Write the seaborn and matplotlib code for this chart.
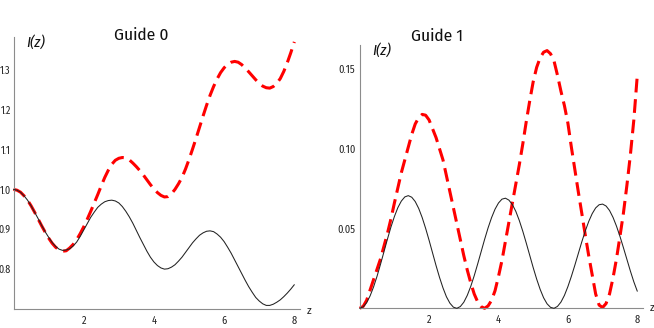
import matplotlib
matplotlib.use("Agg")
import matplotlib.pyplot as plt
import pandas as pd
import seaborn as sns
from matplotlib.ticker import MultipleLocator, FixedLocator, FixedFormatter

# ---------------- data ----------------
z = [0.0, 0.1, 0.2, 0.3, 0.4, 0.5, 0.6, 0.7, 0.8, 0.9,
     1.0, 1.1, 1.2, 1.3, 1.4, 1.5, 1.6, 1.7, 1.8, 1.9,
     2.0, 2.1, 2.2, 2.3, 2.4, 2.5, 2.6, 2.7, 2.8, 2.9,
     3.0, 3.1, 3.2, 3.3, 3.4, 3.5, 3.6, 3.7, 3.8, 3.9,
     4.0, 4.1, 4.2, 4.3, 4.4, 4.5, 4.6, 4.7, 4.8, 4.9,
     5.0, 5.1, 5.2, 5.3, 5.4, 5.5, 5.6, 5.7, 5.8, 5.9,
     6.0, 6.1, 6.2, 6.3, 6.4, 6.5, 6.6, 6.7, 6.8, 6.9,
     7.0, 7.1, 7.2, 7.3, 7.4, 7.5, 7.6, 7.7, 7.8, 7.9, 8.0]

guide0_solid = [1.000, 0.998, 0.993, 0.984, 0.973, 0.959, 0.943, 0.927, 0.910, 0.894,
                0.880, 0.867, 0.857, 0.850, 0.847, 0.848, 0.851, 0.858, 0.868, 0.882,
                0.898, 0.914, 0.930, 0.943, 0.955, 0.963, 0.969, 0.972, 0.973, 0.971,
                0.966, 0.957, 0.945, 0.931, 0.915, 0.897, 0.879, 0.862, 0.845, 0.830,
                0.818, 0.809, 0.803, 0.800, 0.801, 0.805, 0.811, 0.820, 0.830, 0.842,
                0.854, 0.866, 0.876, 0.885, 0.891, 0.895, 0.896, 0.894, 0.888, 0.880,
                0.869, 0.855, 0.840, 0.823, 0.806, 0.789, 0.772, 0.756, 0.742, 0.729,
                0.720, 0.713, 0.709, 0.709, 0.712, 0.717, 0.723, 0.731, 0.740, 0.750, 0.761]

guide0_dashed = [1.000, 0.998, 0.993, 0.984, 0.973, 0.959, 0.943, 0.926, 0.909, 0.893,
                 0.878, 0.865, 0.855, 0.848, 0.845, 0.846, 0.853, 0.862, 0.874, 0.889,
                 0.906, 0.925, 0.945, 0.966, 0.987, 1.009, 1.030, 1.048, 1.063, 1.073,
                 1.078, 1.080, 1.079, 1.074, 1.066, 1.057, 1.047, 1.036, 1.024, 1.012,
                 1.001, 0.992, 0.985, 0.981, 0.982, 0.989, 1.000, 1.014, 1.030, 1.051,
                 1.075, 1.101, 1.128, 1.156, 1.184, 1.211, 1.236, 1.258, 1.277, 1.293,
                 1.305, 1.314, 1.319, 1.321, 1.319, 1.313, 1.304, 1.295, 1.285, 1.275,
                 1.266, 1.259, 1.255, 1.254, 1.258, 1.266, 1.278, 1.296, 1.318, 1.343, 1.370]

guide1_solid = [0.0, 0.0009, 0.0035, 0.0078, 0.0134, 0.0201, 0.0276, 0.0355, 0.0434, 0.0509,
                0.0575, 0.0631, 0.0672, 0.0698, 0.0706, 0.0696, 0.0669, 0.0626, 0.0569, 0.0501,
                0.0426, 0.0347, 0.0268, 0.0194, 0.0128, 0.0072, 0.0032, 0.0007, 0.0, 0.0011,
                0.0038, 0.0081, 0.0137, 0.0204, 0.0278, 0.0355, 0.0432, 0.0504, 0.0568, 0.0621,
                0.0660, 0.0684, 0.0690, 0.0678, 0.0650, 0.0607, 0.0550, 0.0483, 0.0409, 0.0332,
                0.0255, 0.0183, 0.0119, 0.0066, 0.0028, 0.0006, 0.0, 0.0012, 0.0039, 0.0081,
                0.0136, 0.0200, 0.0270, 0.0343, 0.0416, 0.0484, 0.0544, 0.0593, 0.0629, 0.0649,
                0.0653, 0.0641, 0.0613, 0.0570, 0.0515, 0.0451, 0.0380, 0.0307, 0.0234, 0.0166, 0.0107]

guide1_dashed = [0.0, 0.0012, 0.0050, 0.0115, 0.0180, 0.0245, 0.0310, 0.0390, 0.0470, 0.0560,
                 0.0660, 0.0755, 0.0850, 0.0930, 0.1010, 0.1090, 0.1155, 0.1195, 0.1215, 0.1210,
                 0.1180, 0.1125, 0.1070, 0.1000, 0.0930, 0.0830, 0.0730, 0.0630, 0.0530, 0.0430,
                 0.0330, 0.0240, 0.0160, 0.0090, 0.0040, 0.0010, 0.0, 0.0015, 0.0050, 0.0110,
                 0.0200, 0.0300, 0.0420, 0.0540, 0.0660, 0.0780, 0.0900, 0.1030, 0.1170, 0.1300,
                 0.1420, 0.1510, 0.1570, 0.1605, 0.1615, 0.1595, 0.1550, 0.1460, 0.1360, 0.1270,
                 0.1160, 0.1010, 0.0870, 0.0730, 0.0596, 0.0460, 0.0330, 0.0210, 0.0090, 0.0020,
                 0.0005, 0.0030, 0.0090, 0.0190, 0.0310, 0.0450, 0.0596, 0.0770, 0.0960, 0.1180, 0.1460]

titles = ["Guide 0", "Guide 1"]
ylabel = "I(z)"
xlabel = "z"
xtick_labels = ["2", "4", "6", "8"]
ytick_labels_0 = ["0.8", "0.9", "1.0", "1.1", "1.2", "1.3"]
ytick_labels_1 = ["0.05", "0.10", "0.15"]

# ---------------- style ----------------
sns.set_theme(style="white")
plt.rcParams["font.family"] = ["Fira Sans Condensed", "Asap Condensed", "PT Sans Narrow",
                               "Roboto Condensed", "DejaVu Sans"]

W, H = 654, 328
fig = plt.figure(figsize=(W / 100, H / 100), dpi=100)

ax0 = fig.add_axes([13.5 / W, (H - 309) / H, 286.8 / W, (309 - 36.7) / H])
ax1 = fig.add_axes([359.7 / W, (H - 308.3) / H, 282.8 / W, (308.3 - 45) / H])

df0 = pd.DataFrame({"z": z, "solid": guide0_solid, "dashed": guide0_dashed})
df1 = pd.DataFrame({"z": z, "solid": guide1_solid, "dashed": guide1_dashed})

red_dash = (0, (4.5, 2.2))
for ax, df in [(ax0, df0), (ax1, df1)]:
    sns.lineplot(data=df, x="z", y="dashed", ax=ax, color="#ff0000", linewidth=2.2,
                 linestyle=red_dash, clip_on=False, zorder=2)
    sns.lineplot(data=df, x="z", y="solid", ax=ax, color="#222222", linewidth=0.75,
                 clip_on=False, zorder=3)

ax0.set_xlim(0, 8.17)
ax0.set_ylim(0.70, 1.383)
ax1.set_xlim(0, 8.15)
ax1.set_ylim(0.0, 0.165)

spine_col = "#8c8c8c"
for ax in (ax0, ax1):
    ax.set_xlabel("")
    ax.set_ylabel("")
    for s in ("top", "right"):
        ax.spines[s].set_visible(False)
    for s in ("left", "bottom"):
        ax.spines[s].set_color(spine_col)
        ax.spines[s].set_linewidth(0.8)
    ax.xaxis.set_major_locator(FixedLocator([2, 4, 6, 8]))
    ax.xaxis.set_major_formatter(FixedFormatter(xtick_labels))
    ax.xaxis.set_minor_locator(MultipleLocator(0.5))
    ax.tick_params(axis="both", which="major", direction="in", length=3.3, width=0.6,
                   color=spine_col, labelsize=7.5, labelcolor="#222222")
    ax.tick_params(axis="both", which="minor", direction="in", length=2.0, width=0.5,
                   color=spine_col)
    ax.tick_params(axis="x", which="major", pad=4.5)
    ax.grid(False)

ax0.yaxis.set_major_locator(FixedLocator([0.8, 0.9, 1.0, 1.1, 1.2, 1.3]))
ax0.yaxis.set_major_formatter(FixedFormatter(ytick_labels_0))
ax0.yaxis.set_minor_locator(MultipleLocator(0.02))
ax0.tick_params(axis="y", which="major", pad=2.0, labelsize=7.2)

ax1.yaxis.set_major_locator(FixedLocator([0.05, 0.10, 0.15]))
ax1.yaxis.set_major_formatter(FixedFormatter(ytick_labels_1))
ax1.yaxis.set_minor_locator(MultipleLocator(0.01))
ax1.tick_params(axis="y", which="major", pad=3.2)

# titles
ax0.text(0.446, 0.988, titles[0], transform=ax0.transAxes, ha="center", va="baseline",
         fontsize=12.5, color="#111111")
ax1.text(0.275, 1.016, titles[1], transform=ax1.transAxes, ha="center", va="baseline",
         fontsize=12.5, color="#111111")

# I(z) labels
ax0.text(0.044, 1.006, ylabel, transform=ax0.transAxes, ha="left", va="top",
         fontsize=11, style="italic", color="#111111")
ax1.text(0.0435, 1.009, ylabel, transform=ax1.transAxes, ha="left", va="top",
         fontsize=11, style="italic", color="#111111")

# z labels
ax0.text(1.030, -0.006, xlabel, transform=ax0.transAxes, ha="center", va="center",
         fontsize=8.5, color="#222222")
ax1.text(1.034, 0.0, xlabel, transform=ax1.transAxes, ha="center", va="center",
         fontsize=8.5, color="#222222")

fig.savefig("out.png", dpi=100)
